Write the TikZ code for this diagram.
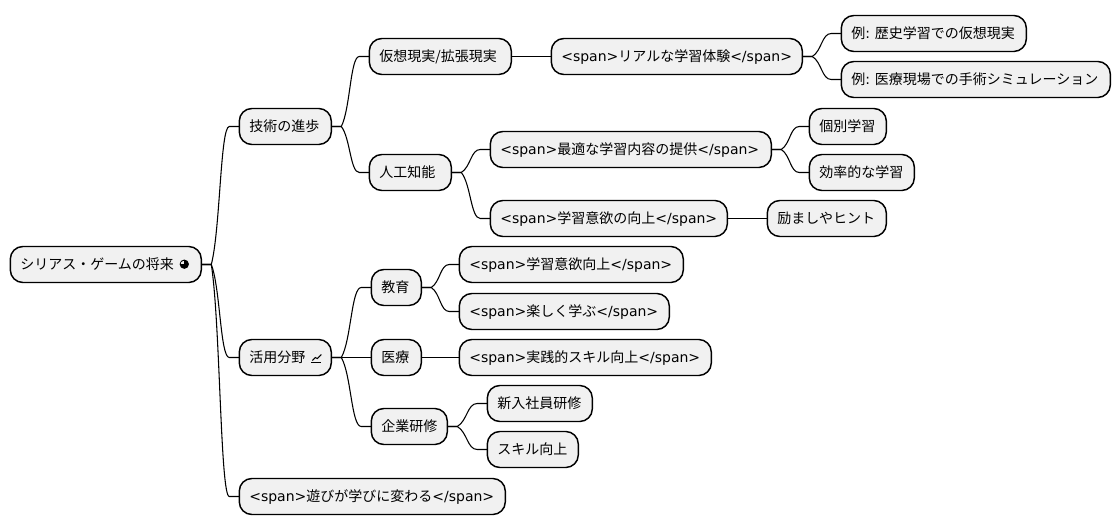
\documentclass[tikz,border=0pt]{standalone}
\usepackage{fontspec}
\setmainfont{DejaVu Sans}
\newfontfamily\cjk{Noto Sans CJK JP}
\usetikzlibrary{calc}
\newcommand{\jp}[1]{{\cjk #1}}
\definecolor{boxfill}{HTML}{F1F1F1}
\tikzset{
  mapbox/.style={draw=black, line width=1.1pt, fill=boxfill, rounded corners=9.4pt, anchor=west,
    inner xsep=7.5pt, inner ysep=0pt, outer sep=0pt, minimum height=27pt, text height=9.6pt, text depth=1.6pt,
    align=left, font=\fontsize{10.5}{12}\selectfont},
  boxw/.style={text width=#1*0.75pt-15pt},
  branch/.style={to path={let \p1=(\tikztostart.east), \p2=(\tikztotarget.west) in
    (\p1) -- ($(\p1)+(10,0)$)
    .. controls ({(\x1+\x2)/2},{\y1+0.25*(\y2-\y1)}) and ({(\x1+\x2)/2},\y2) .. ($(\p2)+(-10,0)$)
    -- (\p2)}}
}
\begin{document}
\begin{tikzpicture}[x=0.75pt, y=-0.75pt]
  \useasboundingbox (-0.3,-0.5) rectangle (1119.7,529.5);

  % 中心
  \node[mapbox, boxw=191] (root) at (10,264) {\jp{シリアス・ゲームの将来}};

  % 第一层
  \node[mapbox, boxw=92] (tech) at (239,126) {\jp{技術の進歩}};
  \node[mapbox, boxw=92] (field) at (239,357) {\jp{活用分野}};
  \node[mapbox, boxw=266] (play) at (239,496) {<span>\jp{遊びが学びに変わる}</span>};

  % 技術の進歩
  \node[mapbox, boxw=142] (vr) at (369,56) {\jp{仮想現実/拡張現実}};
  \node[mapbox, boxw=82] (ai) at (369,172) {\jp{人工知能}};
  \node[mapbox, boxw=251] (real) at (551,56) {<span>\jp{リアルな学習体験}</span>};
  \node[mapbox, boxw=185] (history) at (841,33) {\mbox{\jp{例}:\hspace{3.6pt}\jp{歴史学習での仮想現実}}};
  \node[mapbox, boxw=269] (surgery) at (841,79) {\mbox{\jp{例}:\hspace{3.6pt}\jp{医療現場での手術シミュレーション}}};
  \node[mapbox, boxw=281] (optimal) at (490,149) {<span>\jp{最適な学習内容の提供}</span>};
  \node[mapbox, boxw=237] (motive) at (490,218) {<span>\jp{学習意欲の向上}</span>};
  \node[mapbox, boxw=77] (personal) at (809,126) {\jp{個別学習}};
  \node[mapbox, boxw=105] (efficient) at (809,172) {\jp{効率的な学習}};
  \node[mapbox, boxw=119] (hint) at (767,218) {\jp{励ましやヒント}};

  % 活用分野
  \node[mapbox, boxw=50] (edu) at (371,287) {\jp{教育}};
  \node[mapbox, boxw=50] (med) at (371,357) {\jp{医療}};
  \node[mapbox, boxw=76] (corp) at (371,426) {\jp{企業研修}};
  \node[mapbox, boxw=224] (eduup) at (459,264) {<span>\jp{学習意欲向上}</span>};
  \node[mapbox, boxw=210] (fun) at (459,311) {<span>\jp{楽しく学ぶ}</span>};
  \node[mapbox, boxw=252] (skill) at (459,357) {<span>\jp{実践的スキル向上}</span>};
  \node[mapbox, boxw=105] (newhire) at (487,403) {\jp{新入社員研修}};
  \node[mapbox, boxw=91] (skillup) at (487,449) {\jp{スキル向上}};

  % アイコン
  \fill (184,263.7) circle (3.5pt);
  \fill[boxfill] (183.6,263.3) -- (183.6,260.6) -- (181.8,261) -- (180.9,262) -- (180.6,263.3) -- cycle;
  \draw[line width=0.8pt] (311,362) -- (321,362);
  \draw[line width=0.8pt] (312,360) -- (315,357) -- (317,358) -- (321,354);

  % 枝
  \foreach \from/\to in {root/tech, root/field, root/play,
      tech/vr, tech/ai, vr/real, real/history, real/surgery,
      ai/optimal, ai/motive, optimal/personal, optimal/efficient, motive/hint,
      field/edu, field/med, field/corp, edu/eduup, edu/fun, med/skill,
      corp/newhire, corp/skillup}
    \draw[line width=0.8pt] (\from) to[branch] (\to);
\end{tikzpicture}
\end{document}
